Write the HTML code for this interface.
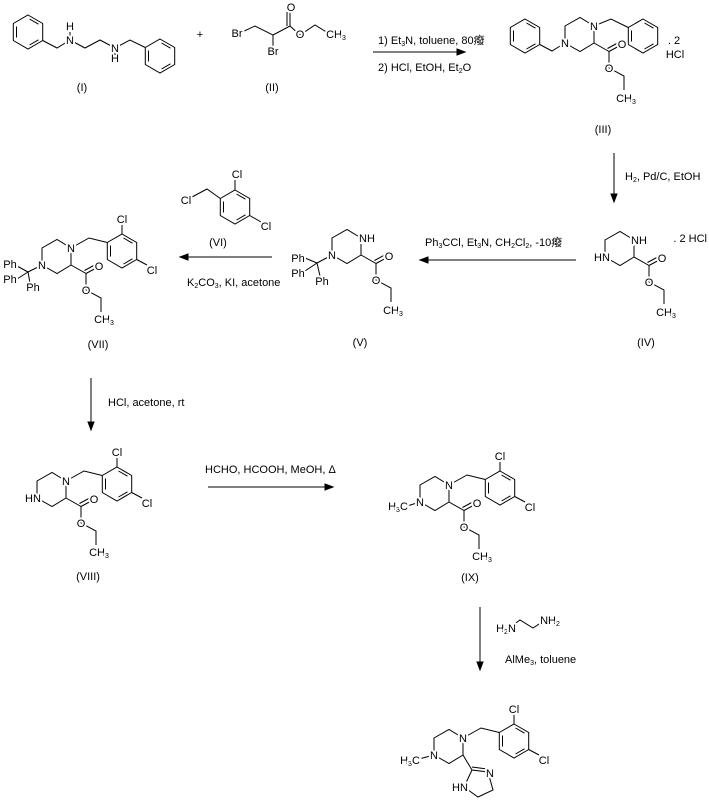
<!DOCTYPE html>
<html><head><meta charset="utf-8"><style>
html,body{margin:0;padding:0;background:#fff}
svg{display:block}
text{font-family:"Liberation Sans","Noto Sans CJK SC",sans-serif;font-size:11px;fill:#000}
.m{paint-order:stroke;stroke:#fff;stroke-width:4px;stroke-linejoin:round}
.s{font-size:7px}
</style></head><body>
<svg width="709" height="807" viewBox="0 0 709 807" xmlns="http://www.w3.org/2000/svg">
<defs>
<g id="ph" fill="none" stroke="#000" stroke-width="1">
<path d="M0,-17 L14.7,-8.5 L14.7,8.5 L0,17 L-14.7,8.5 L-14.7,-8.5 Z"/>
<path d="M1.5,-13 L10.5,-7.8 M10.5,7.8 L1.5,13 M-11.5,5.5 L-11.5,-5.5"/>
</g>
<g id="pip" fill="none" stroke="#000" stroke-width="1">
<path d="M0,0 L0,-17 L15,-25.5 L29,-17 L29,0 L15,8.5 Z"/>
</g>
<g id="est" fill="none" stroke="#000" stroke-width="1">
<path d="M29,0 L44,8.5 L44,25 L59,33 L59,47"/>
<path d="M44,8.5 L56,2 M42.5,5.5 L54.5,-1"/>
</g>
<g id="dcb" fill="none" stroke="#000" stroke-width="1">
<path d="M29,-17 L47,-27 L65.3,-22.5 M80,-31 L80,-42 M94.7,-5.5 L105,0"/>
<use href="#ph" x="80" y="-14"/>
</g>
</defs>
<g fill="none" stroke="#000" stroke-width="1">
<use href="#ph" x="28" y="32"/>
<use href="#ph" x="160" y="56"/>
<path d="M42.7,40.5 L57,48 L70,40 M70,40 L85,48 L100,40 L115,48 L130,40 L145.3,47.5 M70,40 L70,32 M115,48 L115,55"/>
<path d="M240,33 L255,26 L273,35 L273,46 M273,35 L290,26 L300,35 L315,25 L328,33 M290,26 L290,12 M287,26 L287,12"/>
<use href="#pip" x="565" y="43"/><use href="#est" x="565" y="43"/>
<use href="#ph" x="525" y="36"/><use href="#ph" x="643" y="36"/>
<path d="M565,43 L552,51 L539.7,44.5 M594,26 L611,19 L628.3,27.5"/>
<use href="#pip" x="605" y="257"/><use href="#est" x="605" y="257"/>
<use href="#pip" x="332" y="255"/><use href="#est" x="332" y="255"/>
<path d="M332,255 L317,263 M317,263 L305,258 M317,263 L305,271 M317,263 L320,276"/>
<use href="#ph" x="235" y="207"/>
<path d="M192,197 L207,189 L220.3,198.5 M235,190 L235,180 M249.7,215.5 L261,222"/>
<use href="#pip" x="42" y="265"/><use href="#est" x="42" y="265"/><use href="#dcb" x="42" y="265"/>
<path d="M42,265 L28,272 M28,272 L17,266 M28,272 L17,279 M28,272 L30,283"/>
<use href="#pip" x="37" y="498"/><use href="#est" x="37" y="498"/><use href="#dcb" x="37" y="498"/>
<use href="#pip" x="420" y="502"/><use href="#est" x="420" y="502"/><use href="#dcb" x="420" y="502"/>
<path d="M407,506 L420,502"/>
<use href="#pip" x="434" y="755"/><use href="#dcb" x="434" y="755"/>
<path d="M419,759 L434,755 M463,755 L472,770 L488,772 L493,790 L478,797 L464,787 L472,770 M472,767 L487,769"/>
<path d="M509,628 L520,620 L533,628 L545,620"/>
</g>
<g stroke="#000" stroke-width="1" fill="#000">
<line x1="373" y1="52" x2="460" y2="52"/><path d="M465,52 L457,49 L457,55 Z"/>
<line x1="614" y1="153" x2="614" y2="197"/><path d="M614,202 L611,194 L617,194 Z"/>
<line x1="576" y1="260" x2="425" y2="260"/><path d="M420,260 L428,257 L428,263 Z"/>
<line x1="272" y1="257" x2="185" y2="257"/><path d="M180,257 L188,254 L188,260 Z"/>
<line x1="91" y1="378" x2="91" y2="425"/><path d="M91,430 L88,422 L94,422 Z"/>
<line x1="208" y1="487" x2="328" y2="487"/><path d="M333,487 L325,484 L325,490 Z"/>
<line x1="480" y1="607" x2="480" y2="665"/><path d="M480,670 L477,662 L483,662 Z"/>
</g>
<g text-anchor="middle">
<text x="70" y="30">H</text><text class="m" x="70" y="44">N</text>
<text class="m" x="115" y="52">N</text><text x="115" y="62">H</text>
<text class="m" x="237" y="37">Br</text><text class="m" x="273" y="55">Br</text>
<text class="m" x="291" y="11">O</text><text class="m" x="300" y="38">O</text>
<text class="m" x="336" y="38">CH<tspan class="s" dy="2">3</tspan></text>
<text x="200" y="38">+</text>
<text x="82" y="91">(I)</text><text x="272" y="91">(II)</text>
<text class="m" x="565" y="47">N</text><text class="m" x="594" y="30">N</text>
<text class="m" x="622" y="48">O</text><text class="m" x="609" y="72">O</text>
<text class="m" x="626" y="102">CH<tspan class="s" dy="2">3</tspan></text>
<text x="674" y="44">. 2</text><text x="675" y="58">HCl</text>
<text x="603" y="133">(III)</text>
<text class="m" x="602" y="261">HN</text><text class="m" x="639" y="244">NH</text>
<text class="m" x="662" y="262">O</text><text class="m" x="649" y="286">O</text>
<text class="m" x="666" y="316">CH<tspan class="s" dy="2">3</tspan></text>
<text x="707" y="242" text-anchor="end">. 2 HCl</text><text x="646" y="346">(IV)</text>
<text class="m" x="332" y="259">N</text><text class="m" x="367" y="242">NH</text>
<text class="m" x="389" y="260">O</text><text class="m" x="376" y="284">O</text>
<text class="m" x="393" y="314">CH<tspan class="s" dy="2">3</tspan></text>
<text class="m" x="298" y="262">Ph</text><text class="m" x="298" y="277">Ph</text><text class="m" x="322" y="285">Ph</text>
<text x="360" y="346">(V)</text>
<text class="m" x="186" y="204">Cl</text><text class="m" x="237" y="178">Cl</text><text class="m" x="266" y="230">Cl</text>
<text x="218" y="246">(VI)</text>
<text class="m" x="42" y="269">N</text><text class="m" x="71" y="252">N</text>
<text class="m" x="99" y="270">O</text><text class="m" x="86" y="294">O</text>
<text class="m" x="104" y="323">CH<tspan class="s" dy="2">3</tspan></text>
<text class="m" x="122" y="223">Cl</text><text class="m" x="152" y="274">Cl</text>
<text class="m" x="10" y="268">Ph</text><text class="m" x="10" y="283">Ph</text><text class="m" x="33" y="291">Ph</text>
<text x="98" y="348">(VII)</text>
<text class="m" x="33" y="502">HN</text><text class="m" x="66" y="485">N</text>
<text class="m" x="94" y="503">O</text><text class="m" x="81" y="527">O</text>
<text class="m" x="99" y="556">CH<tspan class="s" dy="2">3</tspan></text>
<text class="m" x="117" y="456">Cl</text><text class="m" x="147" y="507">Cl</text>
<text x="88" y="580">(VIII)</text>
<text class="m" x="420" y="506">N</text><text class="m" x="449" y="489">N</text>
<text class="m" x="477" y="507">O</text><text class="m" x="464" y="531">O</text>
<text class="m" x="482" y="560">CH<tspan class="s" dy="2">3</tspan></text>
<text class="m" x="500" y="460">Cl</text><text class="m" x="530" y="511">Cl</text>
<text class="m" x="398" y="510">H<tspan class="s" dy="2">3</tspan><tspan dy="-2">C</tspan></text>
<text x="470" y="581">(IX)</text>
<text class="m" x="434" y="759">N</text><text class="m" x="463" y="742">N</text>
<text class="m" x="514" y="713">Cl</text><text class="m" x="544" y="764">Cl</text>
<text class="m" x="410" y="764">H<tspan class="s" dy="2">3</tspan><tspan dy="-2">C</tspan></text>
<text class="m" x="490" y="777">N</text><text class="m" x="460" y="791">HN</text>
<text class="m" x="506" y="632">H<tspan class="s" dy="2">2</tspan><tspan dy="-2">N</tspan></text>
<text class="m" x="550" y="624">NH<tspan class="s" dy="2">2</tspan></text>
</g>
<g>
<text x="378" y="44">1) Et<tspan class="s" dy="2">3</tspan><tspan dy="-2">N, toluene, 80癈</tspan></text>
<text x="378" y="71">2) HCl, EtOH, Et<tspan class="s" dy="2">2</tspan><tspan dy="-2">O</tspan></text>
<text x="625" y="180">H<tspan class="s" dy="2">2</tspan><tspan dy="-2">, Pd/C, EtOH</tspan></text>
<text x="425" y="246">Ph<tspan class="s" dy="2">3</tspan><tspan dy="-2">CCl, Et</tspan><tspan class="s" dy="2">3</tspan><tspan dy="-2">N, CH</tspan><tspan class="s" dy="2">2</tspan><tspan dy="-2">Cl</tspan><tspan class="s" dy="2">2</tspan><tspan dy="-2">,   -10癈</tspan></text>
<text x="187" y="286">K<tspan class="s" dy="2">2</tspan><tspan dy="-2">CO</tspan><tspan class="s" dy="2">3</tspan><tspan dy="-2">, KI, acetone</tspan></text>
<text x="108" y="406">HCl, acetone, rt</text>
<text x="205" y="473">HCHO, HCOOH, MeOH, Δ</text>
<text x="505" y="663">AlMe<tspan class="s" dy="2">3</tspan><tspan dy="-2">, toluene</tspan></text>
</g>
</svg>
</body></html>
